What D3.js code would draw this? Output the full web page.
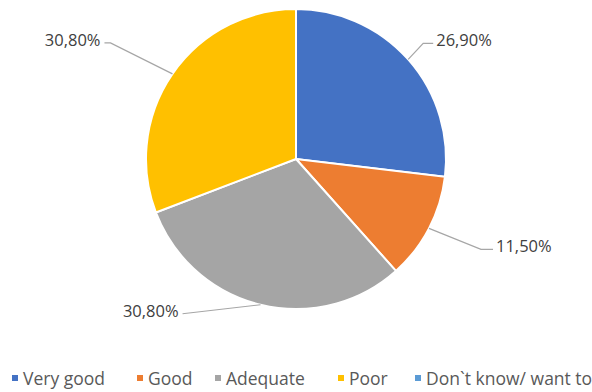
<!DOCTYPE html>
<html lang="en">
<head>
    <meta charset="utf-8">
    <script src="https://cdn.jsdelivr.net/npm/d3@7"></script>
    <style>
        body { margin: 0; background: #fff; }
        svg { display: block; font-family: "Open Sans", "Noto Sans", sans-serif; }
    </style>
</head>
<body>
    <div id="chart"></div>
    <script>
        // data
        var categories = ["Very good", "Good", "Adequate", "Poor", "Don`t know/ want to"];
        var values = [26.9, 11.5, 30.8, 30.8, 0];
        var labels = ["26,90%", "11,50%", "30,80%", "30,80%", ""];
        var colors = ["#4472C4", "#ED7D31", "#A5A5A5", "#FFC000", "#5B9BD5"];

        // leader line elbow / text offsets relative to the edge point
        var labelLayout = [
            { ex: 15, ey: -16, hx: 10, anchor: "start" },
            { ex: 52, ey: 21, hx: 12, anchor: "start" },
            { ex: -78, ey: 9, hx: 0, anchor: "end" },
            { ex: -62, ey: -31, hx: -6, anchor: "end" },
            null
        ];

        var width = 592, height = 392;
        var cx = 296, cy = 159, radius = 150;

        var svg = d3.select("#chart").append("svg")
            .attr("width", width)
            .attr("height", height);

        var g = svg.append("g")
            .attr("transform", "translate(" + cx + "," + cy + ")");

        var pie = d3.pie().sort(null).value(function(d) { return d; });
        var arcs = pie(values);
        var arc = d3.arc().innerRadius(0).outerRadius(radius);

        g.selectAll("path")
            .data(arcs)
            .enter().append("path")
            .attr("d", arc)
            .attr("fill", function(d, i) { return colors[i]; })
            .attr("stroke", "#fff")
            .attr("stroke-width", 2);

        // labels with leader lines
        arcs.forEach(function(d, i) {
            var lay = labelLayout[i];
            if (!lay || d.value === 0) return;
            var mid = (d.startAngle + d.endAngle) / 2;
            var px = radius * Math.sin(mid), py = -radius * Math.cos(mid);
            var ex = px + lay.ex, ey = py + lay.ey;
            var hx = ex + lay.hx;
            g.append("polyline")
                .attr("points", [[px, py], [ex, ey], [hx, ey]].map(function(p) { return p.join(","); }).join(" "))
                .attr("fill", "none")
                .attr("stroke", "#A6A6A6")
                .attr("stroke-width", 1.2);
            g.append("text")
                .attr("x", hx + (lay.anchor === "start" ? 3 : -4))
                .attr("y", ey - 3)
                .attr("dy", "0.35em")
                .attr("text-anchor", lay.anchor)
                .attr("fill", "#404040")
                .style("font-size", "16.5px")
                .text(labels[i]);
        });

        // legend
        var legendX = [12, 137, 215, 338, 415];
        var legend = svg.append("g").attr("transform", "translate(0,379)");
        categories.forEach(function(c, i) {
            legend.append("rect")
                .attr("x", legendX[i])
                .attr("y", -4)
                .attr("width", 6)
                .attr("height", 6)
                .attr("fill", colors[i]);
            legend.append("text")
                .attr("x", legendX[i] + 11)
                .attr("y", 0)
                .attr("dy", "0.35em")
                .attr("fill", "#595959")
                .style("font-size", "17.5px")
                .text(c);
        });
    </script>
</body>
</html>
